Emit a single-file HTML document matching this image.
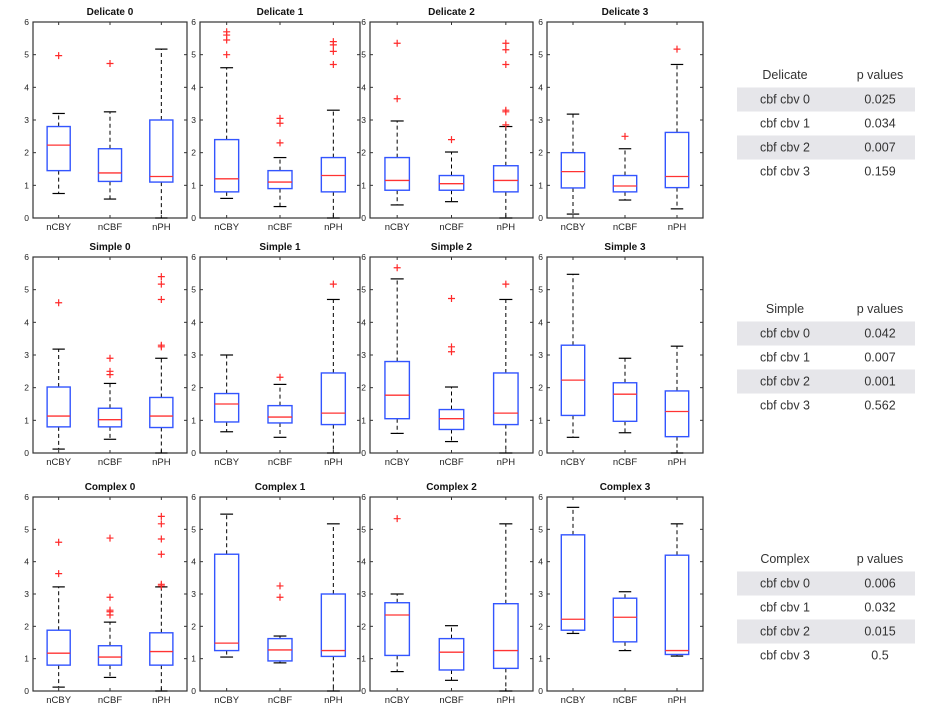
<!DOCTYPE html>
<html><head><meta charset="utf-8"><style>
body{margin:0;background:#fff;}
svg{display:block;font-family:"Liberation Sans",sans-serif;}
</style></head><body>
<svg id="c" width="926" height="713" viewBox="0 0 926 713" xmlns="http://www.w3.org/2000/svg"></svg>
<script>
const categories = ["nCBY","nCBF","nPH"];
const panelTitles = ["Delicate 0","Delicate 1","Delicate 2","Delicate 3","Simple 0","Simple 1","Simple 2","Simple 3","Complex 0","Complex 1","Complex 2","Complex 3"];
const yTicks = [0,1,2,3,4,5,6];
// each box: [whiskerLow, q1, median, q3, whiskerHigh]
const boxStats = [
 [[0.75,1.45,2.23,2.8,3.2],[0.58,1.12,1.38,2.12,3.25],[0,1.1,1.27,3.0,5.17]],
 [[0.6,0.8,1.2,2.4,4.6],[0.35,0.9,1.1,1.45,1.85],[0,0.8,1.3,1.85,3.3]],
 [[0.4,0.85,1.15,1.85,2.97],[0.5,0.85,1.05,1.3,2.02],[0,0.8,1.15,1.6,2.8]],
 [[0.12,0.92,1.42,2.0,3.18],[0.55,0.8,0.98,1.3,2.12],[0.28,0.93,1.27,2.62,4.7]],
 [[0.12,0.8,1.13,2.02,3.18],[0.42,0.8,1.02,1.37,2.13],[0,0.78,1.13,1.7,2.9]],
 [[0.65,0.95,1.5,1.82,3.0],[0.48,0.92,1.1,1.45,2.1],[0,0.87,1.22,2.45,4.7]],
 [[0.6,1.05,1.77,2.8,5.33],[0.35,0.72,1.05,1.33,2.02],[0,0.87,1.22,2.45,4.7]],
 [[0.48,1.15,2.23,3.3,5.47],[0.62,0.97,1.8,2.15,2.9],[0,0.5,1.27,1.9,3.27]],
 [[0.12,0.8,1.17,1.88,3.22],[0.42,0.8,1.05,1.4,2.13],[0,0.8,1.22,1.8,3.22]],
 [[1.05,1.25,1.48,4.23,5.47],[0.87,0.93,1.27,1.62,1.7],[0,1.07,1.25,3.0,5.17]],
 [[0.6,1.1,2.35,2.73,3.0],[0.33,0.65,1.2,1.62,2.02],[0,0.7,1.25,2.7,5.17]],
 [[1.78,1.88,2.22,4.83,5.68],[1.25,1.52,2.28,2.87,3.07],[1.08,1.13,1.25,4.2,5.17]]
];
const outliers = [
 [[4.97],[4.73],[]],
 [[5.0,5.45,5.6,5.7],[2.3,2.9,3.05],[4.7,5.1,5.3,5.4]],
 [[3.65,5.35],[2.4],[2.85,3.25,3.3,4.7,5.15,5.35]],
 [[],[2.5],[5.17]],
 [[4.6],[2.4,2.5,2.9],[3.25,3.3,4.7,5.17,5.4]],
 [[],[2.32],[5.17]],
 [[5.67],[3.1,3.25,4.73],[5.17]],
 [[],[],[]],
 [[3.63,4.6],[2.35,2.45,2.5,2.9,4.73],[3.25,3.3,4.23,4.7,5.17,5.4]],
 [[],[2.9,3.25],[]],
 [[5.33],[],[]],
 [[],[],[]]
];
const tableGroups = ["Delicate","Simple","Complex"];
const tableRowLabels = ["cbf cbv 0","cbf cbv 1","cbf cbv 2","cbf cbv 3"];
const pValues = [["0.025","0.034","0.007","0.159"],["0.042","0.007","0.001","0.562"],["0.006","0.032","0.015","0.5"]];

const NS="http://www.w3.org/2000/svg";
const svg=document.getElementById('c');
function mk(tag,attrs,parent){const e=document.createElementNS(NS,tag);for(const k in attrs)e.setAttribute(k,attrs[k]);(parent||svg).appendChild(e);return e;}
const colX=[[33,187],[200,360],[370,533],[547,703]];
const rowY=[[22,218],[257,453],[497,691]];

panelTitles.forEach((title,p)=>{
  const r=Math.floor(p/4), c=p%4;
  const [x0,x1]=colX[c], [yt,yb]=rowY[r];
  const w=x1-x0;
  const xs=i=>x0+w*(i+0.5)/3;
  const ys=v=>yb-(yb-yt)*v/6;
  const g=mk('g',{});
  
  
  const fr=mk('rect',{x:x0,y:yt,width:w,height:yb-yt,fill:'#fff',stroke:'#333','stroke-width':1.2},g);
  
  
  const t=mk('text',{x:(x0+x1)/2,y:yt-7,'text-anchor':'middle','font-size':10,'font-weight':'bold',fill:'#111'},g);
  t.textContent=title;
  
  
  yTicks.forEach(v=>{
    const y=ys(v);
    mk('line',{x1:x0,x2:x0+3,y1:y,y2:y,stroke:'#333'},g);
    mk('line',{x1:x1-3,x2:x1,y1:y,y2:y,stroke:'#333'},g);
    const tl=mk('text',{x:x0-4,y:y+3,'text-anchor':'end','font-size':8.5,fill:'#222'},g);
    tl.textContent=v;
    
    
  });
  categories.forEach((cat,i)=>{
    const x=xs(i);
    mk('line',{x1:x,x2:x,y1:yb,y2:yb-3,stroke:'#333'},g);
    mk('line',{x1:x,x2:x,y1:yt,y2:yt+3,stroke:'#333'},g);
    const cl=mk('text',{x:x,y:yb+12,'text-anchor':'middle','font-size':9.5,fill:'#222'},g);
    cl.textContent=cat;
    
    
    const s=boxStats[p][i];
    const bw=w*0.15, cw=w*0.08;
    const bg=mk('g',{},g);
    
    
    mk('line',{x1:x,x2:x,y1:ys(s[3]),y2:ys(s[4]),stroke:'#000','stroke-dasharray':'4,3'},bg);
    mk('line',{x1:x,x2:x,y1:ys(s[1]),y2:ys(s[0]),stroke:'#000','stroke-dasharray':'4,3'},bg);
    mk('line',{x1:x-cw/2,x2:x+cw/2,y1:ys(s[4]),y2:ys(s[4]),stroke:'#000','stroke-width':1.2},bg);
    mk('line',{x1:x-cw/2,x2:x+cw/2,y1:ys(s[0]),y2:ys(s[0]),stroke:'#000','stroke-width':1.2},bg);
    mk('rect',{x:x-bw/2,y:ys(s[3]),width:bw,height:ys(s[1])-ys(s[3]),fill:'#fff',stroke:'#3355ff','stroke-width':1.4},bg);
    mk('line',{x1:x-bw/2,x2:x+bw/2,y1:ys(s[2]),y2:ys(s[2]),stroke:'#ff3333','stroke-width':1.3},bg);
    outliers[p][i].forEach(v=>{
      const y=ys(v);
      const o=mk('path',{d:`M${x-3.5},${y}H${x+3.5}M${x},${y-3.5}V${y+3.5}`,stroke:'#ff2a2a','stroke-width':1.2},bg);
      
      
    });
  });
});

const tableTops=[75,309,559];
tableGroups.forEach((grp,k)=>{
  const g=mk('g',{});
  
  
  const y0=tableTops[k];
  const h=mk('text',{x:785,y:y0+4,'text-anchor':'middle','font-size':12.5,fill:'#333'},g);
  h.textContent=grp;
  
  
  const h2=mk('text',{x:880,y:y0+4,'text-anchor':'middle','font-size':12.5,fill:'#333'},g);
  h2.textContent='p values';
  
  
  tableRowLabels.forEach((lab,j)=>{
    const cy=y0+24*(j+1)+0.5;
    if(j%2===0) mk('rect',{x:737,y:cy-12,width:178,height:24,fill:'#e6e6ea'},g);
    const a=mk('text',{x:785,y:cy+4,'text-anchor':'middle','font-size':12.5,fill:'#333'},g);
    a.textContent=lab;
    
    
    const b=mk('text',{x:880,y:cy+4,'text-anchor':'middle','font-size':12.5,fill:'#333'},g);
    b.textContent=pValues[k][j];
    
    
  });
});
</script>
</body></html>
